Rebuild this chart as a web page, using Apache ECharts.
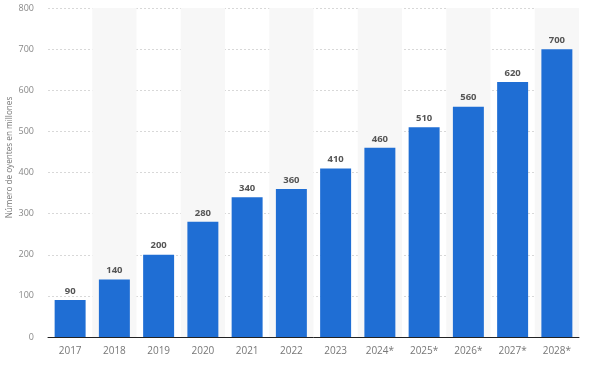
<!DOCTYPE html>
<html>
<head>
<meta charset="utf-8">
<script src="https://cdn.jsdelivr.net/npm/echarts@6/dist/echarts.min.js"></script>
<style>
  html, body { margin: 0; padding: 0; background: #fff; }
  #chart { width: 592px; height: 366px; }
</style>
</head>
<body>
<div id="chart"></div>
<script>
const years = ['2017', '2018', '2019', '2020', '2021', '2022', '2023', '2024*', '2025*', '2026*', '2027*', '2028*'];
const listeners = [90, 140, 200, 280, 340, 360, 410, 460, 510, 560, 620, 700];
const yTicks = { min: 0, max: 800, interval: 100 };
const yName = 'Número de oyentes en millones';

const chart = echarts.init(document.getElementById('chart'));
chart.setOption({
  animation: false,
  textStyle: { fontFamily: 'Open Sans' },
  grid: { left: 48, right: 13, top: 8, bottom: 29, containLabel: false, outerBoundsMode: 'none' },
  xAxis: {
    type: 'category',
    data: years,
    axisLine: { lineStyle: { color: '#222', width: 1 } },
    axisTick: { show: false },
    axisLabel: { color: '#777', fontSize: 10, margin: 9 },
    splitArea: { show: true, areaStyle: { color: ['rgba(255,255,255,0)', '#f7f7f7'] } }
  },
  yAxis: {
    type: 'value',
    min: yTicks.min,
    max: yTicks.max,
    interval: yTicks.interval,
    name: yName,
    nameLocation: 'middle',
    nameGap: 34,
    nameMoveOverlap: false,
    nameTextStyle: { color: '#777', fontSize: 8.2, padding: [0, 0, 0, 30] },
    axisLine: { show: false },
    axisTick: { show: false },
    axisLabel: { color: '#888', fontSize: 9, margin: 14 },
    splitLine: { lineStyle: { color: '#d8d8d8', type: [2, 2] } }
  },
  series: [{
    type: 'bar',
    data: listeners,
    barWidth: '70%',
    itemStyle: { color: '#1f6ed4' },
    label: {
      show: true,
      position: 'top',
      distance: 4,
      color: '#555',
      fontSize: 9.5,
      fontWeight: 'bold'
    }
  }]
});
</script>
</body>
</html>
